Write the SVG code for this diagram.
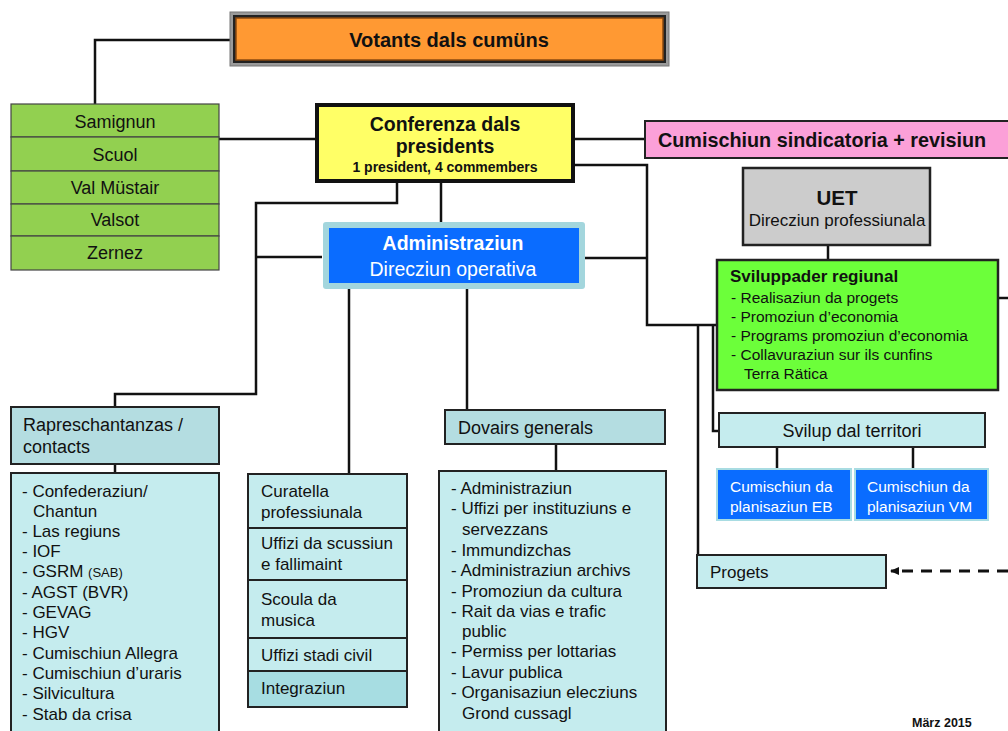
<svg xmlns="http://www.w3.org/2000/svg" width="1008" height="731" viewBox="0 0 1008 731">
<defs>
<style>
text{font-family:"Liberation Sans",Arial,sans-serif;fill:#111}
.b{font-weight:bold}
.w{fill:#fff}
.c{text-anchor:middle}
.ln{fill:none;stroke:#111;stroke-width:2.5}
.box{stroke:#222;stroke-width:2}
.cy{fill:#c5ecee}
.cy2{fill:#b4dde1}
.gr{fill:#92d050;stroke:#444;stroke-width:1.2}
.t17{font-size:17px}
.t18{font-size:18px}
.bl{fill:#0a6cff;stroke:#a8dce2;stroke-width:2}
</style>
<marker id="ah" markerWidth="9" markerHeight="8" refX="8" refY="4" orient="auto" markerUnits="userSpaceOnUse">
<path d="M0,0 L9,4 L0,8 Z" fill="#111"/>
</marker>
</defs>
<rect width="1008" height="731" fill="#fff"/>

<g id="connectors">
<path class="ln" d="M230,40 H95 V104"/>
<path class="ln" d="M219,139 H316"/>
<path class="ln" d="M575,139 H645"/>
<path class="ln" d="M575,165 H647 V325 H717"/>
<path class="ln" d="M585,258 H647"/>
<path class="ln" d="M441,183 V222"/>
<path class="ln" d="M397,183 V203 H256 V394 H115 V407"/>
<path class="ln" d="M256,257 H322"/>
<path class="ln" d="M349,289 V474"/>
<path class="ln" d="M467,289 V410"/>
<path class="ln" d="M115,464 V473"/>
<path class="ln" d="M556,444 V471"/>
<path class="ln" d="M828,246 V260"/>
<path class="ln" d="M698,325 V555"/>
<path class="ln" d="M713,325 V431 H719"/>
<path class="ln" d="M998,298 H1008"/>
<path class="ln" d="M777,447 V469"/>
<path class="ln" d="M913,447 V469"/>
<path d="M1008,571 H891" fill="none" stroke="#111" stroke-width="3" stroke-dasharray="11,8" marker-end="url(#ah)"/>
</g>

<g id="votants">
<rect x="230" y="12" width="439" height="54" fill="#9a9a9a" stroke="#777" stroke-width="1"/>
<rect x="233" y="15" width="433" height="48" fill="#222"/>
<rect x="236" y="18" width="427" height="42" fill="#ff9933" stroke="#8a4a10" stroke-width="1.5"/>
<text x="449" y="47" class="b c" font-size="20">Votants dals cumüns</text>
</g>

<g id="cumuns">
<rect x="11" y="104" width="208" height="33" class="gr"/>
<rect x="11" y="137" width="208" height="34" class="gr"/>
<rect x="11" y="171" width="208" height="33" class="gr"/>
<rect x="11" y="204" width="208" height="32" class="gr"/>
<rect x="11" y="236" width="208" height="34" class="gr"/>
<text x="115" y="128" class="c t18">Samignun</text>
<text x="115" y="161" class="c t18">Scuol</text>
<text x="115" y="194" class="c t18">Val Müstair</text>
<text x="115" y="226" class="c t18">Valsot</text>
<text x="115" y="259" class="c t18">Zernez</text>
</g>

<g id="conferenza">
<rect x="317" y="105" width="256" height="76" fill="#ffff66" stroke="#111" stroke-width="4"/>
<text x="445" y="131" class="b c" font-size="19.5">Conferenza dals</text>
<text x="445" y="153" class="b c" font-size="19.5">presidents</text>
<text x="445" y="172" class="b c" font-size="14">1 president, 4 commembers</text>
</g>

<g id="cumischiun-sindicatoria">
<rect x="645" y="121" width="370" height="37" fill="#fba0d8" stroke="#222" stroke-width="2"/>
<text x="658" y="147" class="b" font-size="19.8">Cumischiun sindicatoria + revisiun</text>
</g>

<g id="uet">
<rect x="743" y="168" width="187" height="77" fill="#cccccc" stroke="#222" stroke-width="2.5"/>
<text x="837" y="205" class="b c" font-size="20.5">UET</text>
<text x="837" y="226" class="c t17" fill="#222">Direcziun professiunala</text>
</g>

<g id="administraziun">
<rect x="323" y="222" width="262" height="67" rx="3" fill="#a3d6dd"/>
<rect x="329" y="228" width="250" height="55" fill="#0a6cff"/>
<text x="453" y="250" class="b c w" font-size="19.5">Administraziun</text>
<text x="453" y="276" class="c w" font-size="19.5">Direcziun operativa</text>
</g>

<g id="sviluppader">
<rect x="717" y="260" width="281" height="130" fill="#6cff3a" stroke="#222" stroke-width="2.5"/>
<text x="730" y="282" class="b" font-size="17">Sviluppader regiunal</text>
<g font-size="15.5">
<text x="731" y="303">- Realisaziun da progets</text>
<text x="731" y="322">- Promoziun d’economia</text>
<text x="731" y="341">- Programs promoziun d’economia</text>
<text x="731" y="360">- Collavuraziun sur ils cunfins</text>
<text x="744" y="379">Terra Rätica</text>
</g>
</g>

<g id="svilup-territori">
<rect x="719" y="413" width="266" height="34" class="box cy"/>
<text x="852" y="437" class="c t18" fill="#222">Svilup dal territori</text>
</g>

<g id="cumischiun-eb">
<rect x="717" y="469" width="134" height="51" class="bl"/>
<text x="730" y="492" class="w" font-size="15.5">Cumischiun da</text>
<text x="730" y="512" class="w" font-size="15.5">planisaziun EB</text>
</g>

<g id="cumischiun-vm">
<rect x="855" y="469" width="133" height="51" class="bl"/>
<text x="867" y="492" class="w" font-size="15.5">Cumischiun da</text>
<text x="867" y="512" class="w" font-size="15.5">planisaziun VM</text>
</g>

<g id="progets">
<rect x="697" y="555" width="189" height="33" class="box cy"/>
<text x="710" y="578" class="t17">Progets</text>
</g>

<g id="rapreschantanzas">
<rect x="11" y="407" width="208" height="57" class="box cy2"/>
<text x="23" y="431" class="t18" fill="#222">Rapreschantanzas /</text>
<text x="23" y="453" class="t18" fill="#222">contacts</text>
</g>

<g id="rapreschantanzas-list">
<rect x="11" y="473" width="208" height="270" class="box cy"/>
<g class="t17">
<text x="22" y="497">- Confederaziun/</text>
<text x="33" y="517">Chantun</text>
<text x="22" y="537">- Las regiuns</text>
<text x="22" y="557">- IOF</text>
<text x="22" y="577">- GSRM <tspan font-size="13">(SAB)</tspan></text>
<text x="22" y="598">- AGST (BVR)</text>
<text x="22" y="618">- GEVAG</text>
<text x="22" y="638">- HGV</text>
<text x="22" y="659">- Cumischiun Allegra</text>
<text x="22" y="679">- Cumischiun d’uraris</text>
<text x="22" y="699">- Silvicultura</text>
<text x="22" y="720">- Stab da crisa</text>
</g>
</g>

<g id="curatella-column">
<rect x="248" y="474" width="159" height="54" class="box cy"/>
<rect x="248" y="528" width="159" height="52" class="box cy"/>
<rect x="248" y="580" width="159" height="58" class="box cy" stroke-width="2.5"/>
<rect x="248" y="638" width="159" height="33" class="box cy"/>
<rect x="248" y="671" width="159" height="36" class="box" fill="#a7dde2"/>
<g class="t17" fill="#222">
<text x="261" y="497">Curatella</text>
<text x="261" y="518">professiunala</text>
<text x="261" y="549">Uffizi da scussiun</text>
<text x="261" y="570">e fallimaint</text>
<text x="261" y="605">Scoula da</text>
<text x="261" y="626">musica</text>
<text x="261" y="661">Uffizi stadi civil</text>
<text x="261" y="694">Integraziun</text>
</g>
</g>

<g id="dovairs-generals">
<rect x="445" y="410" width="220" height="34" class="box cy2"/>
<text x="458" y="434" class="t18" fill="#222">Dovairs generals</text>
</g>

<g id="dovairs-list">
<rect x="439" y="471" width="227" height="272" class="box cy"/>
<g class="t17">
<text x="451" y="494">- Administraziun</text>
<text x="451" y="514">- Uffizi per instituziuns e</text>
<text x="462" y="535">servezzans</text>
<text x="451" y="556">- Immundizchas</text>
<text x="451" y="576">- Administraziun archivs</text>
<text x="451" y="597">- Promoziun da cultura</text>
<text x="451" y="617">- Rait da vias e trafic</text>
<text x="462" y="637">public</text>
<text x="451" y="657">- Permiss per lottarias</text>
<text x="451" y="678">- Lavur publica</text>
<text x="451" y="698">- Organisaziun elecziuns</text>
<text x="462" y="719">Grond cussagl</text>
</g>
</g>

<text x="912" y="727" class="b" font-size="12.5">März 2015</text>
</svg>
